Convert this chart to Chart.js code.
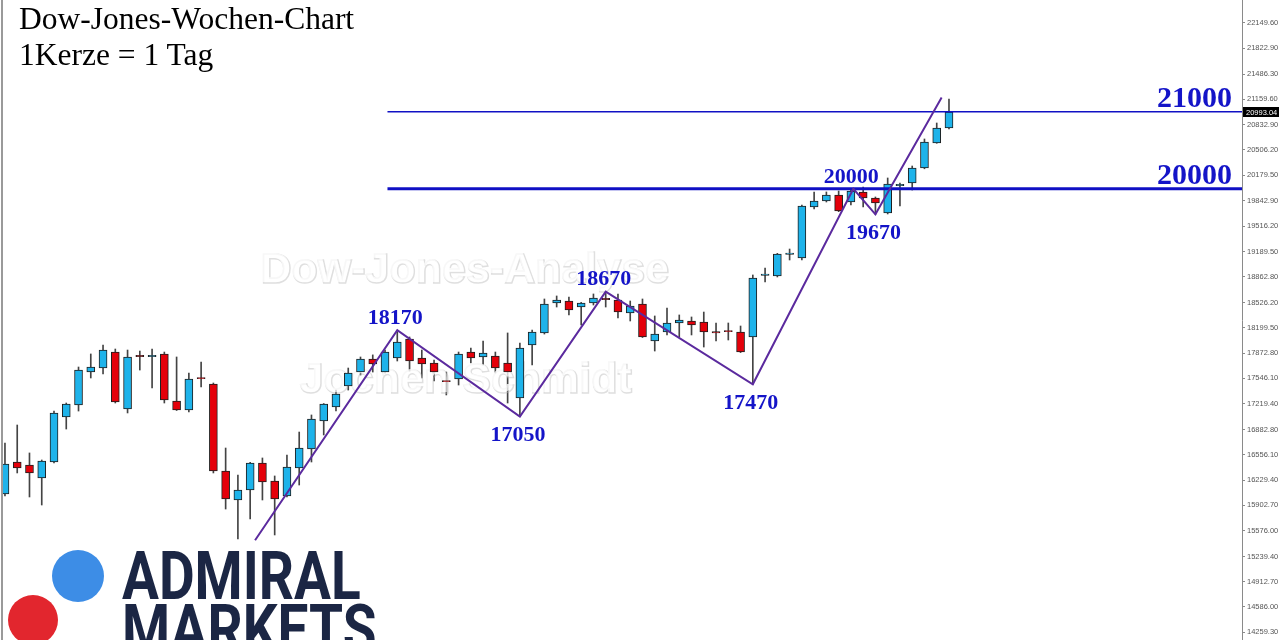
<!DOCTYPE html>
<html lang="de">
<head>
<meta charset="utf-8">
<title>Dow-Jones-Wochen-Chart</title>
<script src="https://cdn.jsdelivr.net/npm/chart.js@4.4.1/dist/chart.umd.min.js"></script>
<style>
  html, body { margin: 0; padding: 0; background: #fff; }
  #wrap { position: relative; width: 1280px; height: 640px; overflow: hidden; }
  #chart { position: absolute; left: 0; top: 0; }
  #edge { position: absolute; left: 1px; top: 0; width: 2px; height: 640px; background: #9a9a9a; }
  .title { position: absolute; left: 19px; font-family: "Liberation Serif", serif; font-size: 31.5px; line-height: 31.5px; color: #000; white-space: nowrap; }
  .dot { position: absolute; border-radius: 50%; }
  .brand { position: absolute; left: 122px; font-family: Roboto, sans-serif; font-weight: bold; font-size: 67px; line-height: 67px; color: #1b2644; transform: scaleX(0.82); transform-origin: 0 0; white-space: nowrap; }
</style>
</head>
<body>
<div id="wrap">
  <canvas id="chart" width="1280" height="640"></canvas>
  <div id="edge"></div>
  <div class="title" style="top:3px">Dow-Jones-Wochen-Chart</div>
  <div class="title" style="top:39px">1Kerze = 1 Tag</div>
  <div class="dot" style="left:52px;top:550px;width:52px;height:52px;background:#3d8de6"></div>
  <div class="dot" style="left:8px;top:595px;width:50px;height:50px;background:#e2262e"></div>
  <div class="brand" style="top:543px">ADMIRAL</div>
  <div class="brand" style="top:596px">MARKETS</div>
</div>
<script>
// Tageskerzen, von links nach rechts
const candleOpen = [
  16049, 16463, 16424, 16256, 16463, 17046, 17201, 17628, 17680, 17887,
  17149, 17843, 17828, 17862, 17253, 17136, 17556, 17473, 16346, 15971,
  16100, 16450, 16217, 16023, 16385, 16631, 16994, 17175, 17447, 17628,
  17797, 17628, 17810, 18056, 17810, 17745, 17518, 17538, 17887, 17823,
  17836, 17745, 17292, 17978, 18134, 18522, 18548, 18470, 18522, 18581,
  18561, 18393, 18509, 18030, 18146, 18263, 18289, 18276, 18151, 18166,
  18146, 18082, 18880, 18872, 19152, 19105, 19765, 19843, 19921, 19830,
  19960, 19882, 19688, 20043, 20076, 20270, 20594, 20788
];
const candleHigh = [
  16709, 16942, 16580, 16489, 17123, 17227, 17693, 17862, 17978, 17926,
  17913, 17900, 17926, 17887, 17823, 17616, 17758, 17486, 16644, 16295,
  16460, 16515, 16282, 16554, 16851, 17072, 17220, 17395, 17680, 17823,
  17850, 17913, 18150, 18082, 17913, 17784, 17628, 17887, 17939, 18030,
  17887, 18134, 18004, 18172, 18574, 18613, 18600, 18530, 18639, 18660,
  18639, 18548, 18574, 18354, 18457, 18367, 18341, 18405, 18263, 18263,
  18224, 18885, 18975, 19165, 19221, 19791, 19960, 19960, 19972, 19998,
  20024, 19895, 20141, 20076, 20296, 20646, 20853, 21164
];
const candleLow = [
  16023, 16321, 16010, 15906, 16450, 16890, 17123, 17551, 17603, 17227,
  17098, 17654, 17421, 17227, 17130, 17110, 17434, 16321, 15854, 15466,
  15725, 15971, 15518, 16010, 16165, 16463, 16813, 17123, 17395, 17590,
  17628, 17615, 17771, 17641, 17551, 17512, 17331, 17460, 17745, 17719,
  17616, 17227, 17050, 17719, 18120, 18470, 18367, 18237, 18496, 18470,
  18328, 18289, 18075, 17900, 18108, 18082, 18108, 17952, 18030, 18043,
  17880, 17470, 18794, 18859, 19079, 19079, 19739, 19830, 19705, 19791,
  19765, 19670, 19675, 19778, 19985, 20260, 20590, 20775
];
const candleClose = [
  16437, 16385, 16321, 16476, 17098, 17214, 17654, 17693, 17913, 17240,
  17823, 17828, 17843, 17266, 17136, 17538, 17541, 16346, 15984, 16100,
  16450, 16204, 15984, 16398, 16644, 17020, 17214, 17344, 17616, 17797,
  17732, 17887, 18017, 17771, 17732, 17628, 17503, 17862, 17810, 17875,
  17680, 17628, 17939, 18146, 18509, 18561, 18431, 18522, 18587, 18566,
  18405, 18483, 18082, 18121, 18263, 18302, 18237, 18146, 18136, 18151,
  17887, 18846, 18895, 19157, 19167, 19778, 19843, 19921, 19713, 19972,
  19882, 19817, 20063, 20058, 20270, 20607, 20788, 20993.04
];

// Preisskala rechts
const priceTicks = [
  22149.60, 21822.90, 21486.30, 21159.60, 20832.90, 20506.20, 20179.50, 19842.90,
  19516.20, 19189.50, 18862.80, 18526.20, 18199.50, 17872.80, 17546.10, 17219.40,
  16882.80, 16556.10, 16229.40, 15902.70, 15576.00, 15239.40, 14912.70, 14586.00, 14259.30
];

// Zickzack-Linie (x = Kerzennummer ab 0)
const zigX = [20.4, 32, 42, 49, 61, 69.2, 71, 76.4];
const zigY = [15449, 18170, 17050, 18670, 17470, 20000, 19670, 21182];
const zigText = ['', '18170', '17050', '18670', '17470', '20000', '19670', ''];

// Marken 21000 / 20000
const levelValues = [21000, 20000];
const levelStart = 31.2;

const X_MIN = -0.16, X_MAX = 100.9;
const Y_MIN = 14157.85, Y_MAX = 22445.85;

const BLUE = '#1eb3ea', RED = '#e4000a';
const idx = candleOpen.map((_, i) => i);

const overlay = {
  id: 'overlay',
  afterDatasetDraw(chart, args) {
    if (args.index !== 1) return; // nach den Kerzenkörpern: Wasserzeichen
    const ctx = chart.ctx;
    ctx.save();
    ctx.font = 'bold 43px "Liberation Sans", sans-serif';
    ctx.textAlign = 'center';
    ctx.textBaseline = 'middle';
    ctx.lineWidth = 1.5;
    ctx.strokeStyle = 'rgba(185,185,185,0.45)';
    ctx.fillStyle = 'rgba(255,255,255,0.75)';
    [['Dow-Jones-Analyse', 464, 270], ['Jochen Schmidt', 465, 380]].forEach(([t, x, y]) => {
      ctx.strokeText(t, x + 1, y + 1);
      ctx.fillText(t, x, y);
    });
    ctx.restore();
  },
  afterDraw(chart) {
    const { ctx, scales: { x, y } } = chart;
    ctx.save();
    ctx.fillStyle = '#1414c8';
    ctx.font = 'bold 22px "Liberation Serif", serif';
    ctx.textAlign = 'center';
    ctx.textBaseline = 'middle';
    zigText.forEach((t, i) => {
      if (!t) return;
      const px = x.getPixelForValue(zigX[i]);
      const py = y.getPixelForValue(zigY[i]);
      const peak = zigY[i] > zigY[i - 1];
      ctx.fillText(t, px - 2, peak ? py - 12 : py + 19);
    });
    ctx.font = 'bold 30px "Liberation Serif", serif';
    ctx.textAlign = 'right';
    ctx.textBaseline = 'alphabetic';
    levelValues.forEach(v => ctx.fillText(String(v), 1232, y.getPixelForValue(v) - 5));

    // aktueller Kurs
    const last = candleClose[candleClose.length - 1];
    const py = Math.round(y.getPixelForValue(last));
    ctx.fillStyle = '#000';
    ctx.fillRect(1243, py - 5, 36, 10);
    ctx.fillStyle = '#fff';
    ctx.font = '7.5px "Liberation Sans", sans-serif';
    ctx.textAlign = 'left';
    ctx.textBaseline = 'middle';
    ctx.fillText(last.toFixed(2), 1246, py + 0.5);
    ctx.restore();
  }
};

new Chart(document.getElementById('chart'), {
  type: 'bar',
  data: {
    datasets: [
      {
        label: 'Kerzen',
        data: idx.map(i => ({ x: i, y: [candleOpen[i], candleClose[i]] })),
        backgroundColor: ctx => candleClose[ctx.dataIndex] >= candleOpen[ctx.dataIndex] ? BLUE : RED,
        borderColor: '#1e1e1e',
        borderWidth: 1,
        borderSkipped: false,
        barThickness: 8,
        grouped: false,
        order: 1
      },
      {
        label: 'Dochte',
        data: idx.map(i => ({ x: i, y: [candleLow[i], candleHigh[i]] })),
        backgroundColor: '#444',
        borderWidth: 0,
        barThickness: 1,
        grouped: false,
        order: 2
      },
      {
        type: 'line',
        label: 'Zickzack',
        data: zigX.map((v, i) => ({ x: v, y: zigY[i] })),
        borderColor: '#5b2a9e',
        borderWidth: 2,
        pointRadius: 0,
        tension: 0,
        order: 0
      },
      {
        type: 'line',
        label: '21000',
        data: [{ x: levelStart, y: levelValues[0] }, { x: X_MAX, y: levelValues[0] }],
        borderColor: '#1010c4',
        borderWidth: 1.5,
        pointRadius: 0,
        order: 0
      },
      {
        type: 'line',
        label: '20000',
        data: [{ x: levelStart, y: levelValues[1] }, { x: X_MAX, y: levelValues[1] }],
        borderColor: '#1010c4',
        borderWidth: 3,
        pointRadius: 0,
        order: 0
      }
    ]
  },
  options: {
    responsive: false,
    animation: false,
    devicePixelRatio: 1,
    layout: { padding: { left: 3, top: 0, bottom: 0, right: 0 } },
    plugins: { legend: { display: false }, tooltip: { enabled: false } },
    scales: {
      x: {
        type: 'linear',
        min: X_MIN,
        max: X_MAX,
        offset: false,
        display: false
      },
      y: {
        position: 'right',
        min: Y_MIN,
        max: Y_MAX,
        afterBuildTicks: axis => { axis.ticks = priceTicks.map(v => ({ value: v })); },
        afterFit: axis => { axis.width = 38; axis.paddingTop = 0; axis.paddingBottom = 0; },
        border: { display: true, color: '#8a8a8a', width: 1 },
        grid: { drawOnChartArea: false, drawTicks: true, tickLength: 3, color: '#8a8a8a' },
        ticks: {
          autoSkip: false,
          padding: 2,
          color: '#555',
          font: { family: '"Liberation Sans", sans-serif', size: 7.5 },
          callback: v => Number(v).toFixed(2)
        }
      }
    }
  },
  plugins: [overlay]
});
</script>
</body>
</html>
